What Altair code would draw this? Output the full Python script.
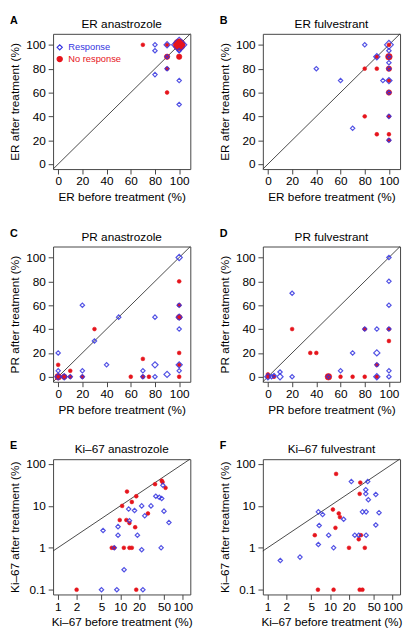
import altair as alt
import pandas as pd

BLUE = "#3535e0"
RED = "#e6141c"
FONT = "Liberation Sans"

letters = ["A", "B", "C", "D", "E", "F"]
titles = ["ER anastrozole", "ER fulvestrant", "PR anastrozole", "PR fulvestrant",
          "Ki\u201367 anastrozole", "Ki\u201367 fulvestrant"]
x_titles = ["ER before treatment (%)", "ER before treatment (%)",
            "PR before treatment (%)", "PR before treatment (%)",
            "Ki\u201367 before treatment (%)", "Ki\u201367 before treatment (%)"]
y_titles = ["ER after treatment (%)", "ER after treatment (%)",
            "PR after treatment (%)", "PR after treatment (%)",
            "Ki\u201367 after treatment (%)", "Ki\u201367 after treatment (%)"]
groups = ["Response", "No response"]

# ---- A: ER anastrozole ----
a_resp_before = [100, 90, 80, 80, 100, 90, 90, 80, 100, 100]
a_resp_after = [100, 100, 100, 95, 95, 90, 80, 75, 70, 50]
a_resp_n = [12, 2, 1, 1, 1, 1, 1, 1, 1, 1]
a_non_before = [70, 90, 100, 100, 90, 90, 90]
a_non_after = [100, 100, 100, 90, 90, 80, 60]
a_non_n = [1, 1, 10, 2, 2, 1, 1]

# ---- B: ER fulvestrant ----
b_resp_before = [100, 80, 90, 100, 100, 100, 100, 40, 60, 95, 100, 100, 100, 70, 100]
b_resp_after = [100, 100, 90, 95, 90, 85, 80, 80, 70, 70, 70, 60, 40, 30, 20]
b_resp_n = [4, 1, 2, 1, 1, 1, 1, 1, 1, 1, 2, 1, 1, 1, 1]
b_non_before = [100, 90, 100, 80, 90, 100, 100, 100, 80, 100, 90, 100, 100]
b_non_after = [100, 90, 90, 80, 80, 80, 70, 60, 40, 40, 25, 25, 20]
b_non_n = [1, 1, 3, 1, 1, 2, 1, 2, 1, 1, 1, 1, 1]

# ---- C: PR anastrozole ----
c_resp_before = [100, 20, 50, 80, 100, 100, 100, 30, 0, 40, 80, 100, 0, 20, 70, 100,
                 90, 0, 5, 10, 20, 70, 80]
c_resp_after = [100, 60, 50, 50, 50, 60, 40, 30, 20, 10, 10, 10, 5, 5, 5, 5,
                2, 0, 0, 0, 0, 0, 0]
c_resp_n = [2, 1, 1, 1, 2, 1, 1, 1, 1, 1, 2, 2, 1, 1, 1, 1,
            2, 2, 2, 1, 1, 1, 1]
c_non_before = [100, 30, 100, 100, 100, 0, 70, 10, 100, 0, 5, 10, 20, 60, 70, 75, 100]
c_non_after = [80, 40, 50, 60, 20, 10, 15, 5, 10, 0, 0, 0, 0, 0, 0, 0, 0]
c_non_n = [1, 1, 2, 1, 1, 1, 1, 1, 1, 3, 2, 1, 1, 1, 1, 1, 1]

# ---- D: PR fulvestrant ----
d_resp_before = [100, 100, 100, 20, 80, 90, 100, 70, 90, 90, 60, 100, 0, 3, 5, 10,
                 10, 20, 50, 90, 100]
d_resp_after = [100, 80, 60, 70, 40, 40, 40, 20, 20, 10, 5, 5, 0, 0, 1, 4,
                0, 0, 0, 0, 0]
d_resp_n = [1, 1, 1, 1, 1, 1, 1, 1, 2, 1, 1, 1, 2, 1, 1, 1,
            2, 1, 1, 2, 1]
d_non_before = [20, 35, 40, 100, 80, 100, 90, 0, 0, 5, 50, 60, 70, 80, 90]
d_non_after = [40, 20, 20, 30, 40, 40, 10, 2, 0, 0, 0, 0, 0, 0, 0]
d_non_n = [1, 1, 1, 1, 1, 1, 1, 1, 1, 1, 3, 1, 1, 1, 1]

# ---- E: Ki-67 anastrozole ----
e_resp_before = [5, 8.8, 23, 11.5, 22, 45, 8, 5.3, 9.2, 18.8, 9.2, 14, 13.6, 16.9,
                 22, 24.6, 31, 37, 42, 46, 50, 60, 48]
e_resp_after = [0.1, 0.1, 0.1, 0.3, 0.9, 1, 1, 2.6, 2, 2, 3.2, 4.4, 8.4, 7.8,
                10, 5.8, 10, 17, 16, 15, 7.5, 4, 31]
e_resp_n = [1] * 23
e_non_before = [2, 18, 7.3, 8, 11.4, 14, 15.3, 9.8, 12.5, 17.3, 14, 15.3, 10.7,
                12.8, 18, 27.7, 36, 46, 47.5, 53]
e_non_after = [0.1, 0.1, 1, 1, 1, 1, 1, 4.6, 4.6, 3.1, 3.9, 12.4, 10,
               22, 17, 6.6, 33, 40, 37, 27]
e_non_n = [1] * 20

# ---- F: Ki-67 fulvestrant ----
f_resp_before = [1.6, 3.3, 6.5, 11.4, 9.5, 6.7, 6.5, 7.6, 16.5, 21.9, 24.9, 28.8,
                 33, 37.8, 37.3, 37.3, 40, 41, 37.8, 54, 54, 60.8]
f_resp_after = [0.5, 0.6, 1.2, 1, 2, 3.4, 7.2, 6.2, 4.8, 38, 2, 2,
                7.2, 7.2, 24.4, 19.4, 38, 14, 2, 18.7, 3.5, 6.9]
f_resp_n = [1] * 22
f_non_before = [6.4, 11.4, 29.8, 33, 5.7, 12.2, 11.1, 13.8, 14.4, 12.5, 20.1,
                28.8, 31.2, 36, 30.5, 29.8]
f_non_after = [0.1, 0.1, 0.1, 0.1, 2, 3.0, 8.2, 6.6, 5.4, 58, 1,
               1.6, 2, 1, 36, 19.4]
f_non_n = [1] * 16

panels_data = [
    (a_resp_before, a_resp_after, a_resp_n, a_non_before, a_non_after, a_non_n, False),
    (b_resp_before, b_resp_after, b_resp_n, b_non_before, b_non_after, b_non_n, False),
    (c_resp_before, c_resp_after, c_resp_n, c_non_before, c_non_after, c_non_n, False),
    (d_resp_before, d_resp_after, d_resp_n, d_non_before, d_non_after, d_non_n, False),
    (e_resp_before, e_resp_after, e_resp_n, e_non_before, e_non_after, e_non_n, True),
    (f_resp_before, f_resp_after, f_resp_n, f_non_before, f_non_after, f_non_n, True),
]

lin_ticks = [0, 20, 40, 60, 80, 100]
log_x_ticks = [1, 2, 5, 10, 20, 50, 100]
log_y_ticks = [0.1, 1, 10, 100]
lin_domain = [-4.2, 109.2]
log_x_domain = [0.84, 132]
log_y_domain = [0.077, 130]
# identity line y = x, spanning the visible square
diag_lin = [-4.2, 109.2]
diag_log = [0.84, 130]

W, H = 140, 138


def make_panel(i):
    rb, ra, rn, nb, na, nn, log = panels_data[i]
    df = pd.concat([
        pd.DataFrame({"before": rb, "after": ra, "n": rn, "group": "Response"}),
        pd.DataFrame({"before": nb, "after": na, "n": nn, "group": "No response"}),
    ], ignore_index=True)
    if log:
        xs = alt.Scale(type="log", domain=log_x_domain, nice=False)
        ys = alt.Scale(type="log", domain=log_y_domain, nice=False)
        xt, yt, fmt = log_x_ticks, log_y_ticks, "~g"
        dline = diag_log
    else:
        xs = alt.Scale(domain=lin_domain, nice=False, zero=False)
        ys = alt.Scale(domain=lin_domain, nice=False, zero=False)
        xt, yt, fmt = lin_ticks, lin_ticks, "d"
        dline = diag_lin
    xenc = alt.X("before:Q", scale=xs,
                 axis=alt.Axis(values=xt, format=fmt, title=x_titles[i]))
    yenc = alt.Y("after:Q", scale=ys,
                 axis=alt.Axis(values=yt, format=fmt, title=y_titles[i]))
    leg = alt.Legend(
        title=None, orient="none", legendX=2, legendY=9, padding=0,
        labelFont=FONT, labelFontSize=9.5, labelOffset=4, rowPadding=1,
        labelColor=alt.ExprRef(expr=f"datum.label == 'Response' ? '{BLUE}' : '{RED}'"),
        symbolSize=28, symbolStrokeWidth=1.2, labelLimit=120,
    )
    enc = dict(
        x=xenc, y=yenc,
        shape=alt.Shape("group:N", scale=alt.Scale(domain=groups, range=["diamond", "circle"]), legend=leg),
        fill=alt.Fill("group:N", scale=alt.Scale(domain=groups, range=["transparent", RED]), legend=leg),
        stroke=alt.Stroke("group:N", scale=alt.Scale(domain=groups, range=[BLUE, RED]), legend=leg),
        size=alt.Size("sz:Q", scale=None),
    )
    base = alt.Chart(df)
    red = base.transform_filter(alt.datum.group == "No response").transform_calculate(
        sz="datum.n * 15").mark_point(opacity=1, strokeWidth=0.6).encode(**enc)
    blue = base.transform_filter(alt.datum.group == "Response").transform_calculate(
        sz="datum.n * 20").mark_point(opacity=0.85, strokeWidth=1.2).encode(**enc)
    line = alt.Chart(pd.DataFrame({"before": dline, "after": dline})).mark_line(
        color="#333333", strokeWidth=0.9).encode(x=xenc, y=yenc)
    heads = pd.DataFrame({"letter": [letters[i]], "title": [titles[i]]})
    lab = alt.Chart(heads).mark_text(
        font=FONT, fontSize=11, fontWeight="bold", align="left", baseline="alphabetic",
        color="black").encode(x=alt.value(-44), y=alt.value(-10), text="letter:N")
    ttl = alt.Chart(heads).mark_text(
        font=FONT, fontSize=12, align="center", baseline="alphabetic",
        color="black").encode(x=alt.value(W / 2), y=alt.value(-6), text="title:N")
    return alt.layer(line, red, blue, lab, ttl).properties(width=W, height=H)


chart = alt.concat(*[make_panel(i) for i in range(6)], columns=2,
                   spacing={"row": 24, "column": 25}).properties(padding=0).configure(
    font=FONT).configure_view(stroke="#444444", strokeWidth=1).configure_axis(
    grid=False, domain=False, tickColor="#444444", tickSize=5, labelPadding=2,
    labelFont=FONT, labelFontSize=12, labelColor="black", labelOverlap=False,
    labelFlush=False, titleFont=FONT, titleFontSize=12, titleFontWeight="normal",
    titleColor="black", titlePadding=5).configure_axisY(labelPadding=3, titlePadding=4)

chart.save("out.html", embed_options={"renderer": "svg", "actions": False})
